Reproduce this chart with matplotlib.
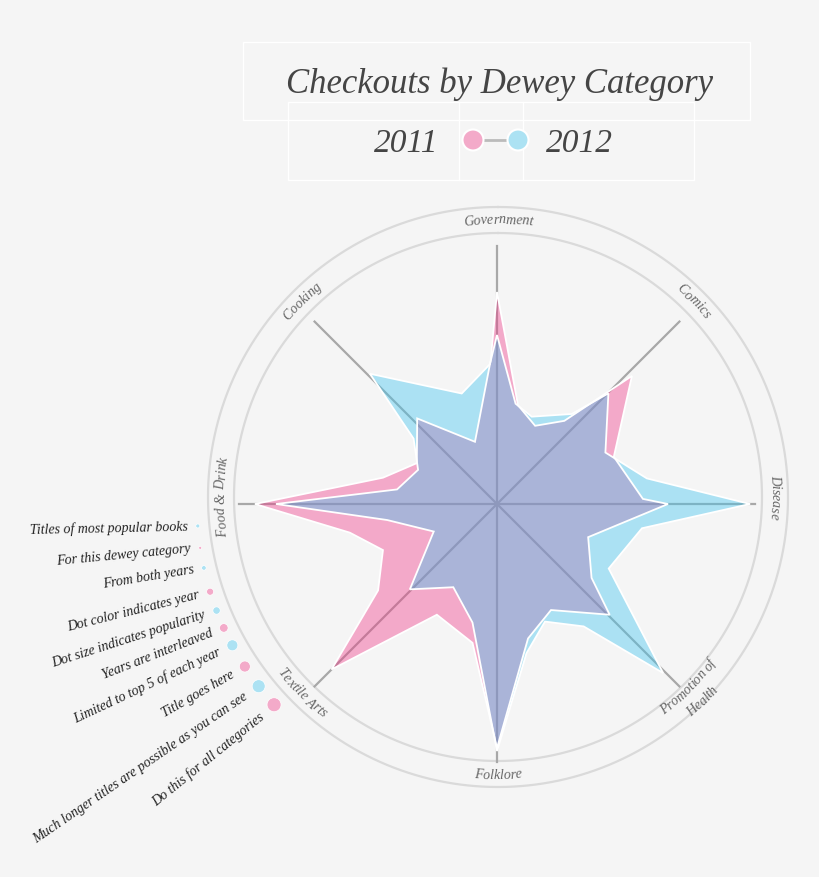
import numpy as np
import matplotlib
matplotlib.use('Agg')
import matplotlib.pyplot as plt
from matplotlib.patches import Rectangle, Circle
from matplotlib.font_manager import FontProperties, findfont, get_font

# Categories sit on the eight spokes (compass degrees, clockwise from top).
categories = ['Government', 'Comics', 'Disease', 'Promotion of\nHealth',
              'Folklore', 'Textile Arts', 'Food & Drink', 'Cooking']
category_angles = [0, 45, 90, 135, 180, 225, 270, 315]

# Checkouts by sub-category, 2011 (angle in degrees, value).
angles_2011 = [0, 12, 26, 39, 46.5, 68, 88, 90, 110, 128, 134.5, 153, 167,
               180, 190, 208.5, 225, 234, 248, 259, 270, 283, 297, 317,
               340.5, 357.5]
checkouts_2011 = [212, 101, 87, 107, 186, 126, 146, 171, 97, 120, 158, 119,
                  138, 244, 141, 126, 234, 147, 123, 150, 242, 117, 90, 117,
                  66, 144]

# Checkouts by sub-category, 2012.
angles_2012 = [0, 10.5, 21.7, 39.7, 45.2, 64.6, 80.3, 90, 99.5, 120, 135.5,
               144.7, 157.8, 168.8, 180, 191.7, 207.7, 225.6, 246.5, 261.7,
               270, 278.3, 293.4, 308.1, 315.7, 342.3, 357.1]
checkouts_2012 = [169, 102, 94, 117, 157, 120, 152, 253, 147, 129, 237, 150,
                  127, 152, 247, 121, 94, 122, 69, 111, 221, 101, 86, 106,
                  182, 116, 140]

# Popular titles listed round the Food & Drink / Textile Arts side.
book_titles = ['Titles of most popular books', 'For this dewey category',
               'From both years', 'Dot color indicates year',
               'Dot size indicates popularity', 'Years are interleaved',
               'Limited to top 5 of each year', 'Title goes here',
               'Much longer titles are possible as you can see',
               'Do this for all categories']
book_angles = [265.8, 261.6, 257.7, 253.0, 249.2, 245.6, 241.9, 237.2,
               232.6, 228.0]
book_years = [2012, 2011, 2012, 2011, 2012, 2011, 2012, 2011, 2012, 2011]
book_popularity = [2.0, 1.5, 2.3, 3.5, 3.7, 4.3, 5.5, 5.5, 6.5, 7.0]

W, H, DPI = 820, 877, 100
BG = '#f5f5f5'
PINK, BLUE = '#f03987', '#3ec5f0'
PINK_LIGHT, BLUE_LIGHT = '#f3aac9', '#ace2f3'
SERIF = 'Liberation Serif'
SPOKE_LEN = 258
R_INNER, R_OUTER = 264, 290

fig = plt.figure(figsize=(W / DPI, H / DPI), dpi=DPI, facecolor=BG)


def polar_axes(cx, cy, rmax, z):
    ax = fig.add_axes([(cx - rmax) / W, (H - cy - rmax) / H,
                       2 * rmax / W, 2 * rmax / H],
                      projection='polar', zorder=z)
    ax.set_theta_zero_location('N')
    ax.set_theta_direction(-1)
    ax.set_ylim(0, rmax)
    ax.set_axis_off()
    return ax


def curved_label(ax, text, angle, r_base, outward, fp):
    # place each glyph along the circle
    font = get_font(findfont(fp))
    font.set_size(fp.get_size_in_points(), DPI)
    adv = [font.load_char(ord(c)).linearHoriAdvance / 65536 for c in text]
    total = sum(adv)
    pos = 0.0
    for ch, a in zip(text, adv):
        d = pos + a / 2 - total / 2
        pos += a
        if ch == ' ':
            continue
        if outward:
            phi = angle + np.degrees(d / r_base)
            rot = -phi
        else:
            phi = angle - np.degrees(d / r_base)
            rot = 180 - phi
        ax.text(np.radians(phi), r_base, ch, fontproperties=fp, color='#666666',
                rotation=rot, rotation_mode='anchor', ha='center',
                va='baseline', clip_on=False)


# Title, legend and their faint boxes in pixel space
deco = fig.add_axes([0, 0, 1, 1], zorder=0)
deco.set_xlim(0, W)
deco.set_ylim(H, 0)
deco.set_axis_off()
deco.add_patch(Rectangle((243, 42), 507, 78, fill=False, ec='white', lw=1))
deco.add_patch(Rectangle((288, 102), 406, 78, fill=False, ec='white', lw=1))
for x in (459, 523):
    deco.plot([x, x], [102, 180], color='white', lw=1)
deco.text(500, 93, 'Checkouts by Dewey Category', family=SERIF, style='italic',
          fontsize=25, color='#454545', ha='center', va='baseline')
deco.text(406, 151.5, '2011', family=SERIF, style='italic', fontsize=24,
          color='#454545', ha='center', va='baseline')
deco.text(579, 151.5, '2012', family=SERIF, style='italic', fontsize=24,
          color='#454545', ha='center', va='baseline')
deco.plot([483, 507], [140, 140], color='#bbbbbb', lw=2, zorder=2)
deco.add_patch(Circle((473, 140), 10.5, fc=PINK_LIGHT, ec='white', lw=1.5,
                      zorder=3))
deco.add_patch(Circle((518, 140), 10.5, fc=BLUE_LIGHT, ec='white', lw=1.5,
                      zorder=3))

# Frame rings and category labels
frame = polar_axes(498, 497, 320, 1)
theta = np.linspace(0, 2 * np.pi, 721)
for r in (R_INNER, R_OUTER):
    frame.plot(theta, np.full_like(theta, r), color='#dadada', lw=1.6)

fp = FontProperties(family=SERIF, style='italic', size=10)
for name, ang in zip(categories, category_angles):
    outward = not (100 < ang < 260)
    lines = name.split('\n')
    if len(lines) == 1:
        r_base = 273.5 if outward else 282
        curved_label(frame, name, ang, r_base, outward, fp)
    else:
        for i, line in enumerate(lines):
            curved_label(frame, line, ang, 274 + 19 * i, outward, fp)

# Star chart
star = polar_axes(497, 504, 320, 2)
for ang in category_angles:
    star.plot([np.radians(ang)] * 2, [0, SPOKE_LEN], color='#a8a8a8', lw=1.6,
              zorder=1)
t11 = np.radians(angles_2011)
t12 = np.radians(angles_2012)
star.fill(t11, checkouts_2011, color=PINK, alpha=0.4, lw=0, zorder=2)
star.fill(t12, checkouts_2012, color=BLUE, alpha=0.4, lw=0, zorder=3)
star.fill(t11, checkouts_2011, fill=False, ec='white', lw=1.3, zorder=4)
star.fill(t12, checkouts_2012, fill=False, ec='white', lw=1.3, zorder=4)

# Book list with popularity dots
r_dots = 300
colors = [PINK_LIGHT if y == 2011 else BLUE_LIGHT for y in book_years]
sizes = [(1.44 * p) ** 2 for p in book_popularity]
star.scatter(np.radians(book_angles), [r_dots] * len(book_angles), s=sizes,
             c=colors, edgecolors='white', linewidths=0.5, zorder=5,
             clip_on=False)
for title, ang, p in zip(book_titles, book_angles, book_popularity):
    a = np.radians(ang)
    rot = np.degrees(np.arctan2(-np.cos(a), -np.sin(a))) - 3
    star.text(a, r_dots + 8 + 1.1 * p, title, family=SERIF, style='italic',
              fontsize=10, color='#222222', rotation=rot,
              rotation_mode='anchor', ha='right', va='center', clip_on=False)

fig.savefig('out.png', dpi=DPI, facecolor=BG)
